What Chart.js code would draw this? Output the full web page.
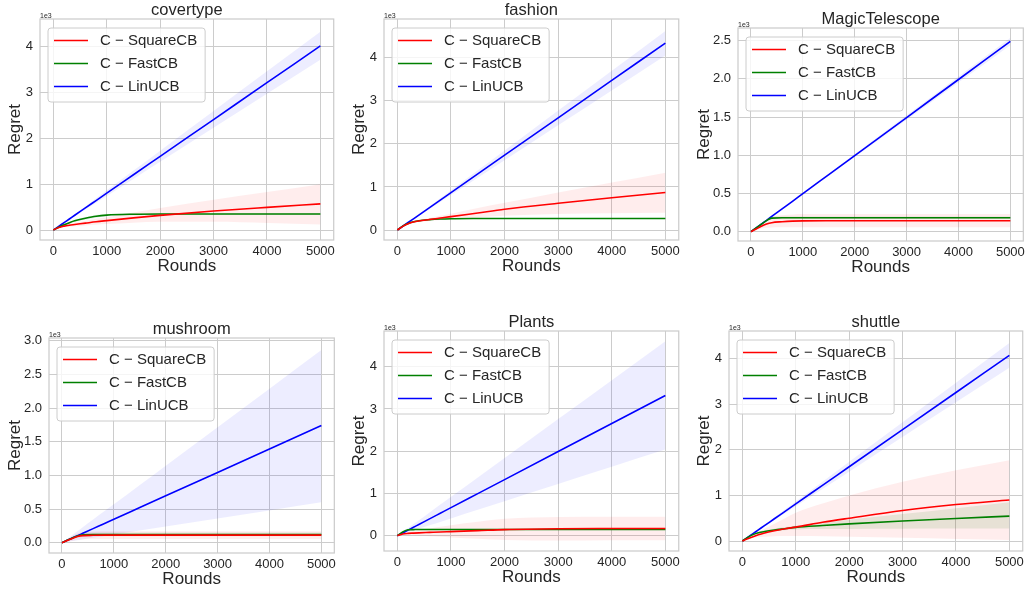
<!DOCTYPE html>
<html>
<head>
<meta charset="utf-8">
<script src="https://cdn.jsdelivr.net/npm/chart.js"></script>
<style>
  body { margin:0; background:#fff; width:1028px; height:594px; overflow:hidden; position:relative; }
  .panel { position:absolute; }
</style>
</head>
<body>
<script>
// x axis (rounds) shared by every panel
const rounds = [0, 100, 200, 300, 400, 600, 800, 1000, 1500, 2000, 3000, 4000, 5000];
const xTicks = [0, 1000, 2000, 3000, 4000, 5000];
const methods = ['C \u2212 SquareCB', 'C \u2212 FastCB', 'C \u2212 LinUCB'];

// covertype
const covSquare   = [0, 55, 85, 105, 120, 150, 180, 205, 265, 320, 415, 495, 570];
const covSquareHi = [0, 70, 110, 140, 160, 200, 245, 280, 380, 480, 660, 830, 1000];
const covSquareLo = [0, 40, 60, 70, 80, 100, 115, 130, 160, 180, 180, 155, 120];
const covFast     = [0, 60, 115, 160, 200, 255, 300, 325, 345, 350, 350, 350, 350];
const covFastHi   = [0, 70, 130, 180, 225, 285, 330, 350, 365, 368, 368, 368, 368];
const covFastLo   = [0, 50, 100, 140, 175, 225, 270, 300, 325, 332, 332, 332, 332];
const covLin      = [0, 80, 161, 241, 322, 482, 643, 804, 1206, 1608, 2412, 3216, 4020];
const covLinHi    = [0, 86, 173, 260, 346, 520, 693, 866, 1299, 1732, 2598, 3464, 4330];
const covLinLo    = [0, 74, 149, 223, 298, 446, 595, 744, 1116, 1488, 2232, 2976, 3720];

// fashion
const fasSquare   = [0, 85, 145, 185, 210, 245, 280, 310, 395, 480, 620, 750, 870];
const fasSquareHi = [0, 90, 155, 200, 230, 280, 330, 380, 510, 630, 870, 1100, 1330];
const fasSquareLo = [0, 80, 135, 170, 190, 210, 230, 245, 290, 330, 370, 390, 400];
const fasFast     = [0, 90, 150, 190, 215, 240, 255, 262, 267, 268, 268, 268, 268];
const fasFastHi   = [0, 100, 165, 205, 230, 255, 268, 275, 280, 280, 280, 280, 280];
const fasFastLo   = [0, 80, 135, 175, 200, 225, 242, 250, 255, 256, 256, 256, 256];
const fasLin      = [0, 87, 174, 260, 347, 521, 694, 868, 1302, 1736, 2604, 3472, 4340];
const fasLinHi    = [0, 92, 185, 277, 370, 554, 739, 924, 1386, 1848, 2772, 3696, 4620];
const fasLinLo    = [0, 81, 162, 243, 324, 486, 648, 810, 1215, 1620, 2430, 3240, 4050];

// MagicTelescope
const magSquare   = [0, 35, 70, 100, 118, 130, 138, 142, 143, 143, 143, 143, 143];
const magSquareHi = [0, 50, 100, 150, 190, 215, 225, 230, 230, 230, 230, 230, 230];
const magSquareLo = [0, 20, 40, 50, 55, 58, 58, 58, 58, 58, 58, 58, 58];
const magFast     = [0, 48, 97, 145, 178, 182, 182, 182, 182, 182, 182, 182, 182];
const magFastHi   = [0, 52, 104, 155, 195, 200, 200, 200, 200, 200, 200, 200, 200];
const magFastLo   = [0, 44, 90, 135, 162, 165, 165, 165, 165, 165, 165, 165, 165];
const magLin      = [0, 50, 100, 149, 199, 299, 398, 498, 747, 996, 1494, 1992, 2490];
const magLinHi    = [0, 51, 102, 152, 203, 305, 406, 508, 762, 1016, 1524, 2032, 2540];
const magLinLo    = [0, 49, 98, 146, 195, 293, 390, 488, 732, 976, 1464, 1952, 2440];

// mushroom
const musSquare   = [0, 32, 64, 92, 105, 110, 112, 112, 112, 112, 112, 112, 112];
const musSquareHi = [0, 50, 100, 140, 160, 168, 170, 170, 170, 170, 170, 170, 170];
const musSquareLo = [0, 15, 30, 45, 52, 55, 56, 56, 56, 56, 56, 56, 56];
const musFast     = [0, 35, 70, 100, 118, 122, 122, 122, 122, 122, 122, 122, 122];
const musFastHi   = [0, 45, 88, 125, 145, 150, 150, 150, 150, 150, 150, 150, 150];
const musFastLo   = [0, 25, 52, 75, 90, 95, 95, 95, 95, 95, 95, 95, 95];
const musLin      = [0, 35, 70, 104, 139, 209, 278, 348, 522, 696, 1044, 1392, 1740];
const musLinHi    = [0, 57, 114, 172, 229, 343, 458, 572, 858, 1144, 1716, 2288, 2860];
const musLinLo    = [0, 12, 24, 36, 48, 72, 96, 120, 180, 240, 360, 480, 600];

// Plants
const plaSquare   = [0, 40, 55, 62, 68, 78, 88, 97, 120, 145, 165, 170, 172];
const plaSquareHi = [0, 60, 90, 110, 130, 170, 210, 250, 330, 400, 445, 450, 450];
const plaSquareLo = [0, 20, 20, 15, 5, -10, -25, -40, -70, -100, -115, -110, -105];
const plaFast     = [0, 90, 140, 145, 147, 148, 148, 148, 148, 148, 148, 148, 148];
const plaFastHi   = [0, 100, 155, 160, 162, 163, 163, 163, 163, 163, 163, 163, 163];
const plaFastLo   = [0, 80, 125, 130, 132, 133, 133, 133, 133, 133, 133, 133, 133];
const plaLin      = [0, 66, 133, 199, 266, 398, 531, 664, 996, 1328, 1992, 2656, 3320];
const plaLinHi    = [0, 92, 184, 276, 368, 552, 736, 920, 1380, 1840, 2760, 3680, 4600];
const plaLinLo    = [0, 41, 82, 122, 163, 245, 326, 408, 612, 816, 1224, 1632, 2040];

// shuttle
const shuSquare   = [0, 50, 95, 135, 170, 225, 270, 305, 410, 500, 670, 800, 900];
const shuSquareHi = [0, 60, 120, 190, 260, 380, 500, 620, 820, 1000, 1300, 1550, 1770];
const shuSquareLo = [0, 40, 70, 85, 95, 105, 110, 112, 105, 95, 70, 45, 20];
const shuFast     = [0, 80, 140, 180, 205, 240, 270, 300, 340, 375, 440, 495, 545];
const shuFastHi   = [0, 90, 155, 200, 230, 270, 305, 335, 400, 465, 590, 720, 850];
const shuFastLo   = [0, 70, 125, 160, 180, 210, 235, 255, 262, 265, 270, 272, 275];
const shuLin      = [0, 81, 163, 244, 326, 488, 651, 814, 1221, 1628, 2442, 3256, 4070];
const shuLinHi    = [0, 87, 174, 260, 347, 521, 694, 868, 1302, 1736, 2604, 3472, 4340];
const shuLinLo    = [0, 76, 152, 228, 304, 456, 608, 760, 1140, 1520, 2280, 3040, 3800];

// y tick values / labels (values in 1e3)
const ticks4 = [0, 1000, 2000, 3000, 4000];
const labels4 = ['0', '1', '2', '3', '4'];
const ticks25 = [0, 500, 1000, 1500, 2000, 2500];
const labels25 = ['0.0', '0.5', '1.0', '1.5', '2.0', '2.5'];
const ticks30 = [0, 500, 1000, 1500, 2000, 2500, 3000];
const labels30 = ['0.0', '0.5', '1.0', '1.5', '2.0', '2.5', '3.0'];

const FONT = '"Liberation Sans", Arial, sans-serif';
const TXT = '#262626';
const GRID = '#cccccc';
const colors = ['#ff0000', '#008000', '#0000ff'];
const bandColors = ['rgba(255,0,0,0.07)', 'rgba(0,128,0,0.10)', 'rgba(0,0,255,0.07)'];

// L,T,R,B = plot frame in page px, yt = centre of the "Regret" label
const panels = [
  {title:'covertype', s:[covSquare,covSquareHi,covSquareLo], f:[covFast,covFastHi,covFastLo], l:[covLin,covLinHi,covLinLo],
   yt:ticks4, yl:labels4, min:-218, max:4607, box:{L:40, T:19, R:335, B:240, yt:15}},
  {title:'fashion', s:[fasSquare,fasSquareHi,fasSquareLo], f:[fasFast,fasFastHi,fasFastLo], l:[fasLin,fasLinHi,fasLinLo],
   yt:ticks4, yl:labels4, min:-232, max:4898, box:{L:384, T:19, R:680, B:240, yt:359}},
  {title:'MagicTelescope', s:[magSquare,magSquareHi,magSquareLo], f:[magFast,magFastHi,magFastLo], l:[magLin,magLinHi,magLinLo],
   yt:ticks25, yl:labels25, min:-122, max:2666, box:{L:738, T:28, R:1025, B:241, yt:704}},
  {title:'mushroom', s:[musSquare,musSquareHi,musSquareLo], f:[musFast,musFastHi,musFastLo], l:[musLin,musLinHi,musLinLo],
   yt:ticks30, yl:labels30, min:-153, max:3040, box:{L:49, T:338, R:336, B:553, yt:15}},
  {title:'Plants', s:[plaSquare,plaSquareHi,plaSquareLo], f:[plaFast,plaFastHi,plaFastLo], l:[plaLin,plaLinHi,plaLinLo],
   yt:ticks4, yl:labels4, min:-362, max:4845, box:{L:384, T:331, R:680, B:551, yt:359}},
  {title:'shuttle', s:[shuSquare,shuSquareHi,shuSquareLo], f:[shuFast,shuFastHi,shuFastLo], l:[shuLin,shuLinHi,shuLinLo],
   yt:ticks4, yl:labels4, min:-219, max:4605, box:{L:729, T:331, R:1024, B:551, yt:704}}
];

const TOP_PAD = 30, X_H = 37, RIGHT_PAD = 4;

function pts(arr) {
  return arr.map((v, i) => ({x: rounds[i], y: v}));
}

// title, 1e3 offset text, frame and the legend box
const decor = {
  id: 'decor',
  beforeDatasetsDraw(chart) {
    const a = chart.chartArea, ctx = chart.ctx;
    ctx.save();
    ctx.strokeStyle = GRID;
    ctx.lineWidth = 1.25;
    ctx.strokeRect(a.left, a.top, a.right - a.left, a.bottom - a.top);
    ctx.restore();
  },
  afterDraw(chart, args, opts) {
    const a = chart.chartArea, ctx = chart.ctx;
    ctx.save();
    ctx.fillStyle = TXT;
    ctx.font = '16.5px ' + FONT;
    ctx.textAlign = 'center';
    ctx.textBaseline = 'alphabetic';
    ctx.fillText(opts.title, (a.left + a.right) / 2, a.top - 4);

    ctx.font = '7px ' + FONT;
    ctx.textAlign = 'left';
    ctx.fillText('1e3', a.left, a.top - 1.5);

    // legend
    const lines = chart.data.datasets.filter(d => d.label);
    ctx.font = '15px ' + FONT;
    let tw = 0;
    lines.forEach(d => { tw = Math.max(tw, ctx.measureText(d.label).width); });
    const lx = a.left + 8, ly = a.top + 9, w = 52 + tw + 8, h = 74;
    ctx.beginPath();
    if (ctx.roundRect) ctx.roundRect(lx, ly, w, h, 3); else ctx.rect(lx, ly, w, h);
    ctx.fillStyle = 'rgba(255,255,255,0.8)';
    ctx.fill();
    ctx.strokeStyle = GRID;
    ctx.lineWidth = 1;
    ctx.stroke();
    ctx.textBaseline = 'middle';
    lines.forEach((d, i) => {
      const y = ly + 12.5 + i * 23;
      ctx.strokeStyle = d.borderColor;
      ctx.lineWidth = 1.5;
      ctx.beginPath();
      ctx.moveTo(lx + 6, y);
      ctx.lineTo(lx + 40, y);
      ctx.stroke();
      ctx.fillStyle = TXT;
      ctx.fillText(d.label, lx + 52, y);
    });
    ctx.restore();
  }
};

panels.forEach((p, k) => {
  const b = p.box;
  const left = Math.round(b.yt - 10);
  const top = b.T - TOP_PAD;
  const yw = b.L - left;
  const div = document.createElement('div');
  div.className = 'panel';
  div.style.left = left + 'px';
  div.style.top = top + 'px';
  div.style.width = (b.R + RIGHT_PAD - left) + 'px';
  div.style.height = (b.B + X_H - top) + 'px';
  const cv = document.createElement('canvas');
  div.appendChild(cv);
  document.body.appendChild(div);

  const datasets = [];
  [p.s, p.f, p.l].forEach((ser, i) => {
    datasets.push({data: pts(ser[1]), borderWidth: 0, pointRadius: 0, fill: '+1',
      backgroundColor: bandColors[i], order: 1, cubicInterpolationMode: 'monotone'});
    datasets.push({data: pts(ser[2]), borderWidth: 0, pointRadius: 0, fill: false,
      order: 1, cubicInterpolationMode: 'monotone'});
  });
  [p.s, p.f, p.l].forEach((ser, i) => {
    datasets.push({label: methods[i], data: pts(ser[0]), borderColor: colors[i], borderWidth: 1.6,
      pointRadius: 0, fill: false, order: 0, cubicInterpolationMode: 'monotone'});
  });

  new Chart(cv, {
    type: 'line',
    data: {datasets: datasets},
    options: {
      responsive: true,
      maintainAspectRatio: false,
      animation: false,
      layout: {padding: {top: TOP_PAD, right: RIGHT_PAD, left: 0, bottom: 0}},
      plugins: {
        legend: {display: false},
        tooltip: {enabled: false},
        decor: {title: p.title}
      },
      scales: {
        x: {
          type: 'linear', min: -250, max: 5250,
          afterBuildTicks: s => { s.ticks = xTicks.map(v => ({value: v})); },
          afterFit: s => { s.height = X_H; },
          grid: {color: GRID, drawTicks: false},
          border: {display: false},
          ticks: {padding: 4, color: TXT, font: {size: 13, family: FONT}, maxRotation: 0,
            callback: v => String(v)},
          title: {display: true, text: 'Rounds', padding: 0, color: TXT, font: {size: 17, family: FONT}}
        },
        y: {
          type: 'linear', min: p.min, max: p.max,
          afterBuildTicks: s => { s.ticks = p.yt.map(v => ({value: v})); },
          afterFit: s => { s.width = yw; },
          grid: {color: GRID, drawTicks: false},
          border: {display: false},
          ticks: {padding: 7, color: TXT, font: {size: 13, family: FONT},
            callback: (v, i) => p.yl[i]},
          title: {display: true, text: 'Regret', padding: 0, color: TXT, font: {size: 17, family: FONT}}
        }
      }
    },
    plugins: [decor]
  });
});
</script>
</body>
</html>
